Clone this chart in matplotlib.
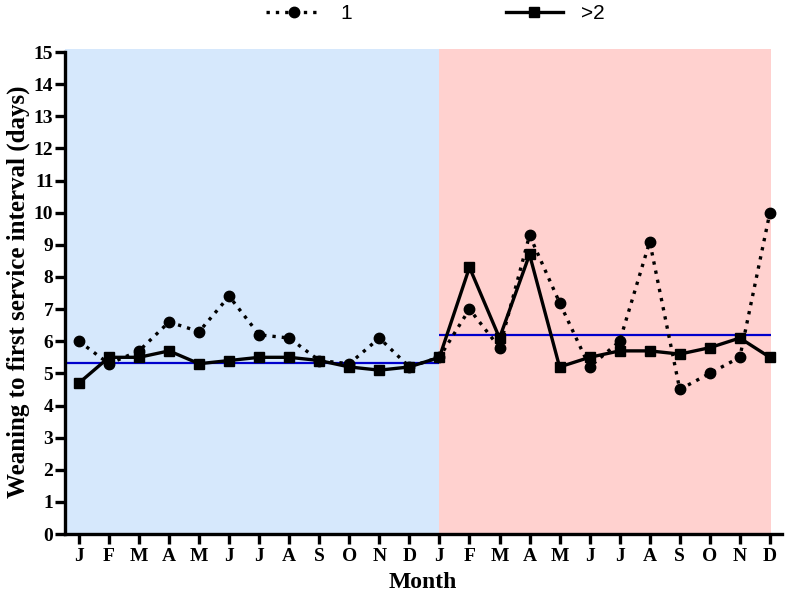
import matplotlib
matplotlib.use("Agg")
import matplotlib.pyplot as plt
import numpy as np

months = ["J", "F", "M", "A", "M", "J", "J", "A", "S", "O", "N", "D",
          "J", "F", "M", "A", "M", "J", "J", "A", "S", "O", "N", "D"]
series_1 = [6.0, 5.3, 5.7, 6.6, 6.3, 7.4, 6.2, 6.1, 5.4, 5.3, 6.1, 5.2,
            5.5, 7.0, 5.8, 9.3, 7.2, 5.2, 6.0, 9.1, 4.5, 5.0, 5.5, 10.0]
series_2 = [4.7, 5.5, 5.5, 5.7, 5.3, 5.4, 5.5, 5.5, 5.4, 5.2, 5.1, 5.2,
            5.5, 8.3, 6.1, 8.7, 5.2, 5.5, 5.7, 5.7, 5.6, 5.8, 6.1, 5.5]
period_means = [5.33, 6.19]
yticks = list(range(0, 16))

fig = plt.figure(figsize=(7.87, 5.96), dpi=100)
ax = fig.add_axes([0.082, 0.104, 0.9115, 0.814])

x = np.arange(len(months))
xmin, xmax = -0.48, 23.4
ax.set_xlim(xmin, xmax)
ax.set_ylim(0, 15.1)

ax.axvspan(xmin, 12, color="#D6E8FC", zorder=0, lw=0)
ax.axvspan(12, 23.05, color="#FFD1CF", zorder=0, lw=0)

ax.hlines(period_means[0], xmin, 12, colors="#0000CC", lw=1.6, zorder=2)
ax.hlines(period_means[1], 12, 23.05, colors="#0000CC", lw=1.6, zorder=2)

ax.plot(x, series_1, linestyle=(0, (1, 1.8)), color="black", lw=2.4,
        marker="o", markersize=7.5, label="1", zorder=3)
ax.plot(x, series_2, linestyle="-", color="black", lw=2.4,
        marker="s", markersize=7, label=">2", zorder=4)

for s in ["top", "right"]:
    ax.spines[s].set_visible(False)
for s in ["left", "bottom"]:
    ax.spines[s].set_linewidth(2.4)
ax.spines["left"].set_bounds(0, 15)

ax.set_yticks(yticks)
ax.set_xticks(x)
ax.set_xticklabels(months)
ax.tick_params(axis="both", direction="out", width=2.4, length=7,
               labelsize=14)
ax.tick_params(axis="y", pad=1)
ax.tick_params(axis="x", pad=3)
for lab in ax.get_xticklabels() + ax.get_yticklabels():
    lab.set_fontfamily("Liberation Serif")
    lab.set_fontweight("bold")

ax.set_ylabel("Weaning to first service interval (days)", fontsize=18,
              fontfamily="Liberation Serif", fontweight="bold", labelpad=3)
ax.set_xlabel("Month", fontsize=17, fontfamily="Liberation Serif",
              fontweight="bold", labelpad=5)

leg = fig.legend(loc="upper center", bbox_to_anchor=(0.553, 1.025), ncol=2,
                 frameon=False, handlelength=2.7, columnspacing=7.4,
                 handletextpad=0.9,
                 prop={"family": "Liberation Sans", "size": 15})

fig.savefig("out.png", dpi=100)
